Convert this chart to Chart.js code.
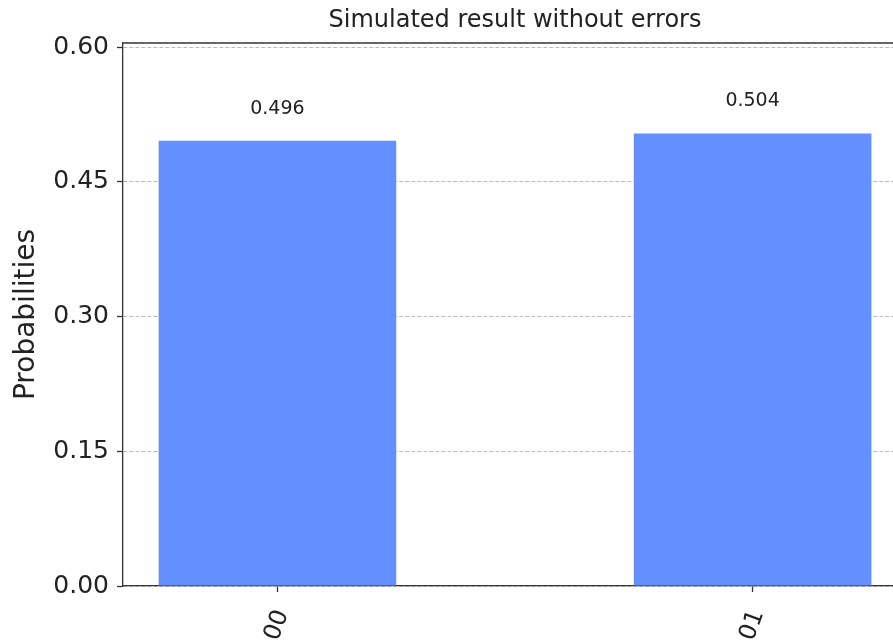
<!DOCTYPE html>
<html>
<head>
<meta charset="utf-8">
<script src="https://cdn.jsdelivr.net/npm/chart.js@4.4.0/dist/chart.umd.min.js"></script>
<style>
  html, body { margin: 0; padding: 0; overflow: hidden; background: #fff; }
  #wrap { position: relative; width: 950px; height: 643px; }
</style>
</head>
<body>
<div id="wrap"><canvas id="myChart"></canvas></div>
<script>
// histogram data
const states = ["00", "01"];
const probabilities = [0.496, 0.504];
const xPositions = [0, 1];
const yTickValues = [0, 0.15, 0.30, 0.45, 0.60];
const chartTitle = "Simulated result without errors";

// build the points chart.js wants for a bar on a linear axis
const points = xPositions.map((x, i) => ({ x: x, y: probabilities[i] }));

// title centred over the plot area plus a box round the axes
const framePlugin = {
    id: "frame",
    afterDraw(chart) {
        const ctx = chart.ctx;
        const a = chart.chartArea;
        ctx.save();
        ctx.strokeStyle = "#333";
        ctx.lineWidth = 1.3;
        ctx.beginPath();
        ctx.moveTo(a.left, a.top);
        ctx.lineTo(a.right, a.top);
        ctx.lineTo(a.right, a.bottom);
        ctx.stroke();

        ctx.fillStyle = "#222";
        ctx.font = "24px 'DejaVu Sans'";
        ctx.textAlign = "center";
        ctx.textBaseline = "middle";
        ctx.fillText(chartTitle, (a.left + a.right) / 2, 21);

        // value labels above each bar
        const yScale = chart.scales.y;
        const xScale = chart.scales.x;
        ctx.font = "19px 'DejaVu Sans'";
        ctx.textBaseline = "bottom";
        probabilities.forEach((p, i) => {
            const px = xScale.getPixelForValue(xPositions[i]);
            const py = yScale.getPixelForValue(p * 1.05);
            ctx.fillText(p.toFixed(3), px, py);
        });
        ctx.restore();
    }
};

const data = {
    datasets: [
        {
            label: "Probabilities",
            data: points,
            backgroundColor: "#648fff",
            borderWidth: 0,
            barPercentage: 0.5,
            categoryPercentage: 1.0,
        },
    ],
};

const config = {
    type: "bar",
    data,
    options: {
        responsive: true,
        maintainAspectRatio: false,
        animation: false,
        layout: { padding: { top: 43, right: 43, left: 0, bottom: 0 } },
        plugins: {
            legend: { display: false },
            tooltip: { enabled: false },
            title: { display: false },
        },
        scales: {
            x: {
                type: "linear",
                min: -0.325,
                max: 1.325,
                offset: false,
                afterBuildTicks(scale) {
                    scale.ticks = xPositions.map((v) => ({ value: v }));
                },
                afterFit(scale) {
                    scale.height = 57;
                },
                ticks: {
                    minRotation: 70,
                    maxRotation: 70,
                    padding: 14,
                    labelOffset: 5,
                    color: "#222",
                    font: { family: "DejaVu Sans", size: 24 },
                    callback: (v, i) => states[i],
                },
                grid: {
                    offset: false,
                    drawOnChartArea: false,
                    tickLength: 6,
                    tickColor: "#333",
                    tickWidth: 1.3,
                },
                border: { color: "#333", width: 1.3 },
            },
            y: {
                min: 0,
                max: 0.6048,
                afterBuildTicks(scale) {
                    scale.ticks = yTickValues.map((v) => ({ value: v }));
                },
                afterFit(scale) {
                    scale.width = 123;
                },
                ticks: {
                    padding: 8,
                    color: "#222",
                    font: { family: "DejaVu Sans", size: 25 },
                    callback: (v) => v.toFixed(2),
                },
                grid: {
                    color: "#bbb",
                    lineWidth: 1,
                    tickLength: 6,
                    tickColor: "#333",
                    tickWidth: 1.3,
                    tickBorderDash: [],
                },
                border: { color: "#333", width: 1.3, dash: [4, 2] },
                title: {
                    display: true,
                    text: "Probabilities",
                    color: "#222",
                    font: { family: "DejaVu Sans", size: 28 },
                    padding: { top: 10, bottom: 0 },
                },
            },
        },
    },
    plugins: [framePlugin],
};

// put the chart in the canvas element
var myChart = new Chart(document.getElementById("myChart"), config);
</script>
</body>
</html>
